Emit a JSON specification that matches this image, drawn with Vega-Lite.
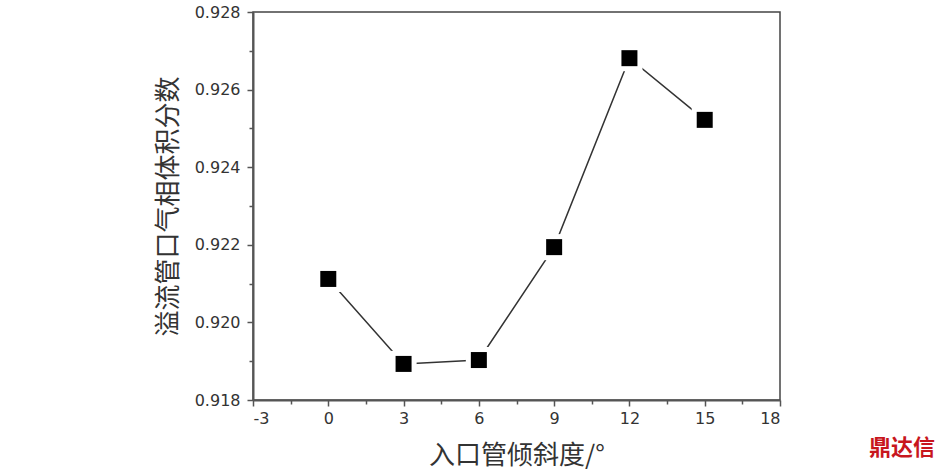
{
  "$schema": "https://vega.github.io/schema/vega-lite/v6.json",
  "width": 527,
  "height": 388,
  "autosize": {"type": "none"},
  "padding": {"left": 253, "top": 12, "right": 167, "bottom": 72},
  "background": "white",
  "config": {
    "view": {"stroke": "#444", "strokeWidth": 1.5},
    "axis": {
      "domainColor": "#555",
      "domainWidth": 2,
      "tickColor": "#555",
      "tickWidth": 1.5,
      "labelFont": "DejaVu Sans",
      "labelFontSize": 16,
      "labelColor": "#333",
      "titleFont": "Noto Sans CJK SC",
      "titleFontSize": 26,
      "titleColor": "#333",
      "titleFontWeight": "normal",
      "grid": false,
      "labelOverlap": false
    }
  },
  "title": {
    "text": "鼎达信",
    "orient": "bottom",
    "anchor": "end",
    "frame": "group",
    "offset": -30,
    "dx": 155,
    "color": "#c8161d",
    "font": "Noto Sans CJK SC",
    "fontSize": 22,
    "fontWeight": "bold"
  },
  "data": {
    "values": [
      {"angle": 0, "fraction": 0.92112},
      {"angle": 3, "fraction": 0.91893},
      {"angle": 6, "fraction": 0.91903},
      {"angle": 9, "fraction": 0.92194},
      {"angle": 12, "fraction": 0.92681},
      {"angle": 15, "fraction": 0.92522}
    ]
  },
  "encoding": {
    "x": {
      "field": "angle",
      "type": "quantitative",
      "scale": {"domain": [-3, 18], "nice": false, "zero": false},
      "axis": {
        "title": "入口管倾斜度/°",
        "values": [-3, -1.5, 0, 1.5, 3, 4.5, 6, 7.5, 9, 10.5, 12, 13.5, 15, 16.5, 18],
        "labelExpr": "datum.value % 3 === 0 ? '' + datum.value : ''",
        "tickSize": {"condition": {"test": "datum.value % 3 === 0", "value": 6}, "value": 4},
        "labelPadding": 4,
        "titlePadding": 16
      }
    },
    "y": {
      "field": "fraction",
      "type": "quantitative",
      "scale": {"domain": [0.918, 0.928], "nice": false, "zero": false},
      "axis": {
        "title": "溢流管口气相体积分数",
        "values": [0.918, 0.919, 0.92, 0.921, 0.922, 0.923, 0.924, 0.925, 0.926, 0.927, 0.928],
        "format": ".3f",
        "labelExpr": "round(datum.value * 1000) % 2 === 0 ? datum.label : ''",
        "tickSize": {"condition": {"test": "round(datum.value * 1000) % 2 === 0", "value": 6}, "value": 4},
        "labelPadding": 7,
        "titlePadding": 13
      }
    }
  },
  "layer": [
    {"mark": {"type": "line", "color": "#333", "strokeWidth": 1.5}},
    {"mark": {"type": "point", "shape": "square", "filled": true, "color": "white", "opacity": 1, "size": 680}},
    {"mark": {"type": "point", "shape": "square", "filled": true, "color": "black", "opacity": 1, "size": 256}}
  ]
}
